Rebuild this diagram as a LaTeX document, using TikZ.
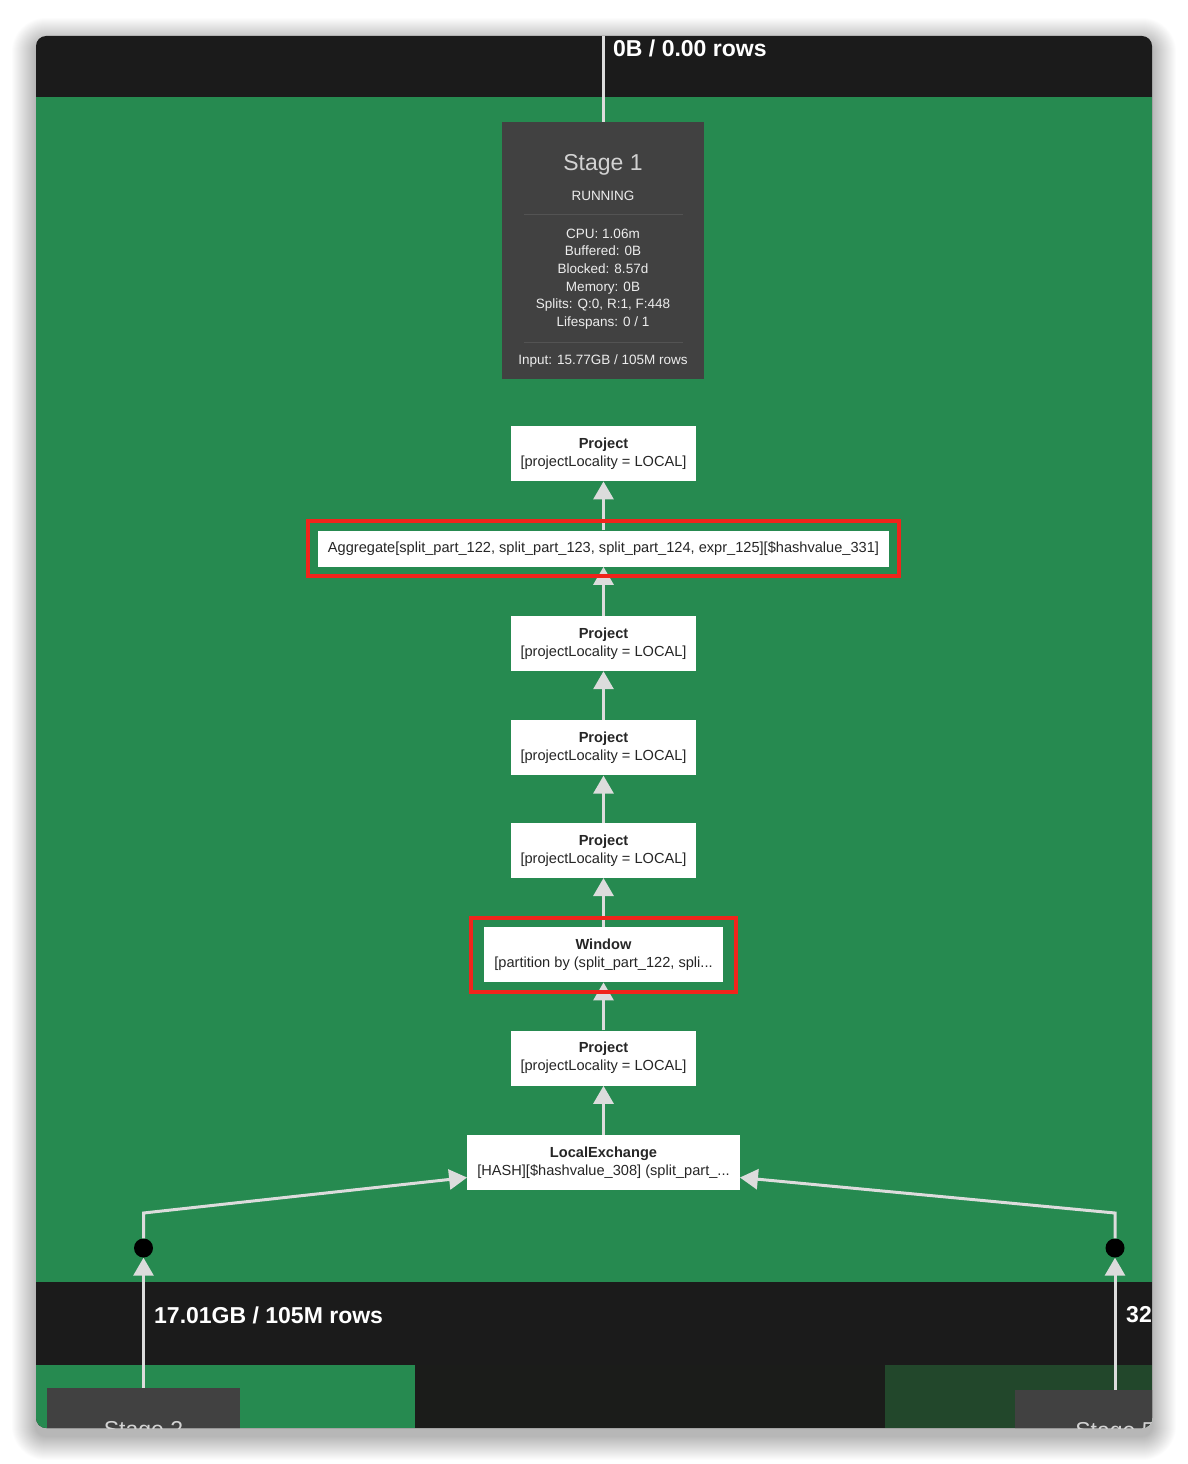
\documentclass[tikz,border=0pt]{standalone}
\usepackage{fontspec}
\setmainfont{Liberation Sans}
\usetikzlibrary{positioning,arrows.meta,fit}
\definecolor{cGreen}{HTML}{268A50}
\definecolor{cBand}{HTML}{1B1B1B}
\definecolor{cMid}{HTML}{1B1C1A}
\definecolor{cStage}{HTML}{414141}
\definecolor{cDeep}{HTML}{22472B}
\definecolor{cEdge}{HTML}{DCDCDC}
\definecolor{cMark}{HTML}{F0241B}
\definecolor{cSep}{HTML}{535353}
\definecolor{cOpTxt}{HTML}{262626}
\definecolor{cTitle}{HTML}{D2D2D2}
\definecolor{cInfo}{HTML}{EDEDED}
\tikzset{
  op/.style={fill=white, inner xsep=10pt, inner ysep=2pt, minimum height=55pt,
             align=center, text=cOpTxt, font=\fontsize{14.6}{18}\selectfont},
  hilite/.style={draw=cMark, line width=4pt, inner sep=0pt},
  ar/.style={-{Triangle[width=20pt,length=18pt]}, line width=3pt, cEdge},
  ln/.style={line width=3pt, cEdge},
  jdot/.style={circle, fill=black, minimum size=19pt, inner sep=0pt},
  stagebox/.style={fill=cStage, inner sep=0pt},
  stxt/.style={align=center, inner sep=0pt, text=cInfo},
  sepl/.style={cSep, line width=1pt},
  rowlbl/.style={font=\fontsize{23}{26}\selectfont\bfseries, text=white,
                 anchor=west, inner sep=0pt},
}
\newcommand{\projop}{\textbf{Project}\\{}[projectLocality = LOCAL]}

\begin{document}
\begin{tikzpicture}[x=1pt,y=1pt]
  \useasboundingbox (0,0) rectangle (1188,-1464);
  \fill[white] (0,0) rectangle (1188,-1464);
  % soft shadow of the card
  \foreach \k in {1,...,24}
    \fill[black, opacity=0.011, rounded corners={10pt+\k pt}]
      ({36-\k},{-36+\k-6}) rectangle ({1152+\k},{-1428-\k-8});
  \fill[cBand, rounded corners=10pt] (36,-36) rectangle (1152,-1428);
  \begin{scope}
    \clip[rounded corners=10pt] (36,-36) rectangle (1152,-1428);
    % bands of the stage view
    \fill[cGreen] (36,-97) rectangle (1152,-1282);
    \fill[cGreen] (36,-1365) rectangle (415,-1428);
    \fill[cMid] (415,-1365) rectangle (885,-1428);
    \fill[cDeep] (885,-1365) rectangle (1152,-1428);

    % stage 1 header
    \node[stagebox, minimum width=202pt, minimum height=257pt] (s1) at (603,-250.5) {};
    \node[stxt, text=cTitle, font=\fontsize{23}{26}\selectfont] (s1t) at (603,-165) {Stage 1};
    \node[stxt, font=\fontsize{13.5}{16}\selectfont] (s1st) at (603,-196) {RUNNING};
    \draw[sepl] (524,-214) -- (683,-214);
    \node[stxt, font=\fontsize{13.5}{17.6}\selectfont] (s1info) at (603,-279)
      {CPU: 1.06m\\Buffered: 0B\\Blocked: 8.57d\\Memory: 0B\\Splits: Q:0, R:1, F:448\\Lifespans: 0 / 1};
    \draw[sepl] (524,-342) -- (683,-342);
    \node[stxt, font=\fontsize{13.5}{16}\selectfont] (s1in) at (603,-361) {Input: 15.77GB / 105M rows};
    \coordinate (top) at (603,-36);
    \draw[ln] (top) -- (s1);
    \node[rowlbl] (outlbl) at (613,-48) {0B / 0.00 rows};

    % operators
    \node[op] (lx) at (603.5,-1162.5)
      {\textbf{LocalExchange}\\{}[HASH][\$hashvalue\_308] (split\_part\_...};
    \node[op, above=49pt of lx] (p5) {\projop};
    \node[op, above=48pt of p5] (win)
      {\textbf{Window}\\{}[partition by (split\_part\_122, spli...};
    \node[op, above=49pt of win] (p4) {\projop};
    \node[op, above=47pt of p4] (p3) {\projop};
    \node[op, above=49pt of p3] (p2) {\projop};
    \node[op, minimum height=36pt, above=49pt of p2] (agg)
      {Aggregate[split\_part\_122, split\_part\_123, split\_part\_124, expr\_125][\$hashvalue\_331]};
    \node[op, above=49pt of agg] (p1) {\projop};
    \draw[ar] (lx) -- (p5);
    \draw[ar] (p5) -- (win);
    \draw[ar] (win) -- (p4);
    \draw[ar] (p4) -- (p3);
    \draw[ar] (p3) -- (p2);
    \draw[ar] (p2) -- (agg);
    \draw[ar] (agg) -- (p1);

    % child stages
    \node[stagebox, minimum width=193pt, minimum height=80pt] (s2) at (143.5,-1428) {};
    \node[stagebox, minimum width=200pt, minimum height=76pt] (s5) at (1115,-1428) {};
    \node[stxt, text=cTitle, font=\fontsize{23}{26}\selectfont] (s2t) at (143.5,-1432) {Stage 2};
    \node[stxt, text=cTitle, font=\fontsize{23}{26}\selectfont] (s5t) at (1115,-1433) {Stage 5};
    \node[jdot] (jl) at (143.5,-1248) {};
    \node[jdot] (jr) at (1115,-1248) {};
    \coordinate (bl) at (143.5,-1213);
    \coordinate (br) at (1115,-1213);
    \draw[ar] (s2) -- (jl);
    \draw[ar] (s5) -- (jr);
    \draw[ar] (jl) -- (bl) -- ([yshift=-15pt]lx.west);
    \draw[ar] (jr) -- (br) -- ([yshift=-15pt]lx.east);
    \node[rowlbl] (inl) at (154,-1315) {17.01GB / 105M rows};
    \node[rowlbl] (inr) at (1126,-1315) {32};

    % highlights
    \node[hilite, fit=(agg), inner xsep=10pt, inner ysep=9.5pt] (aggmark) {};
    \node[hilite, fit=(win), inner xsep=13pt, inner ysep=9.5pt] (winmark) {};
  \end{scope}
\end{tikzpicture}
\end{document}
